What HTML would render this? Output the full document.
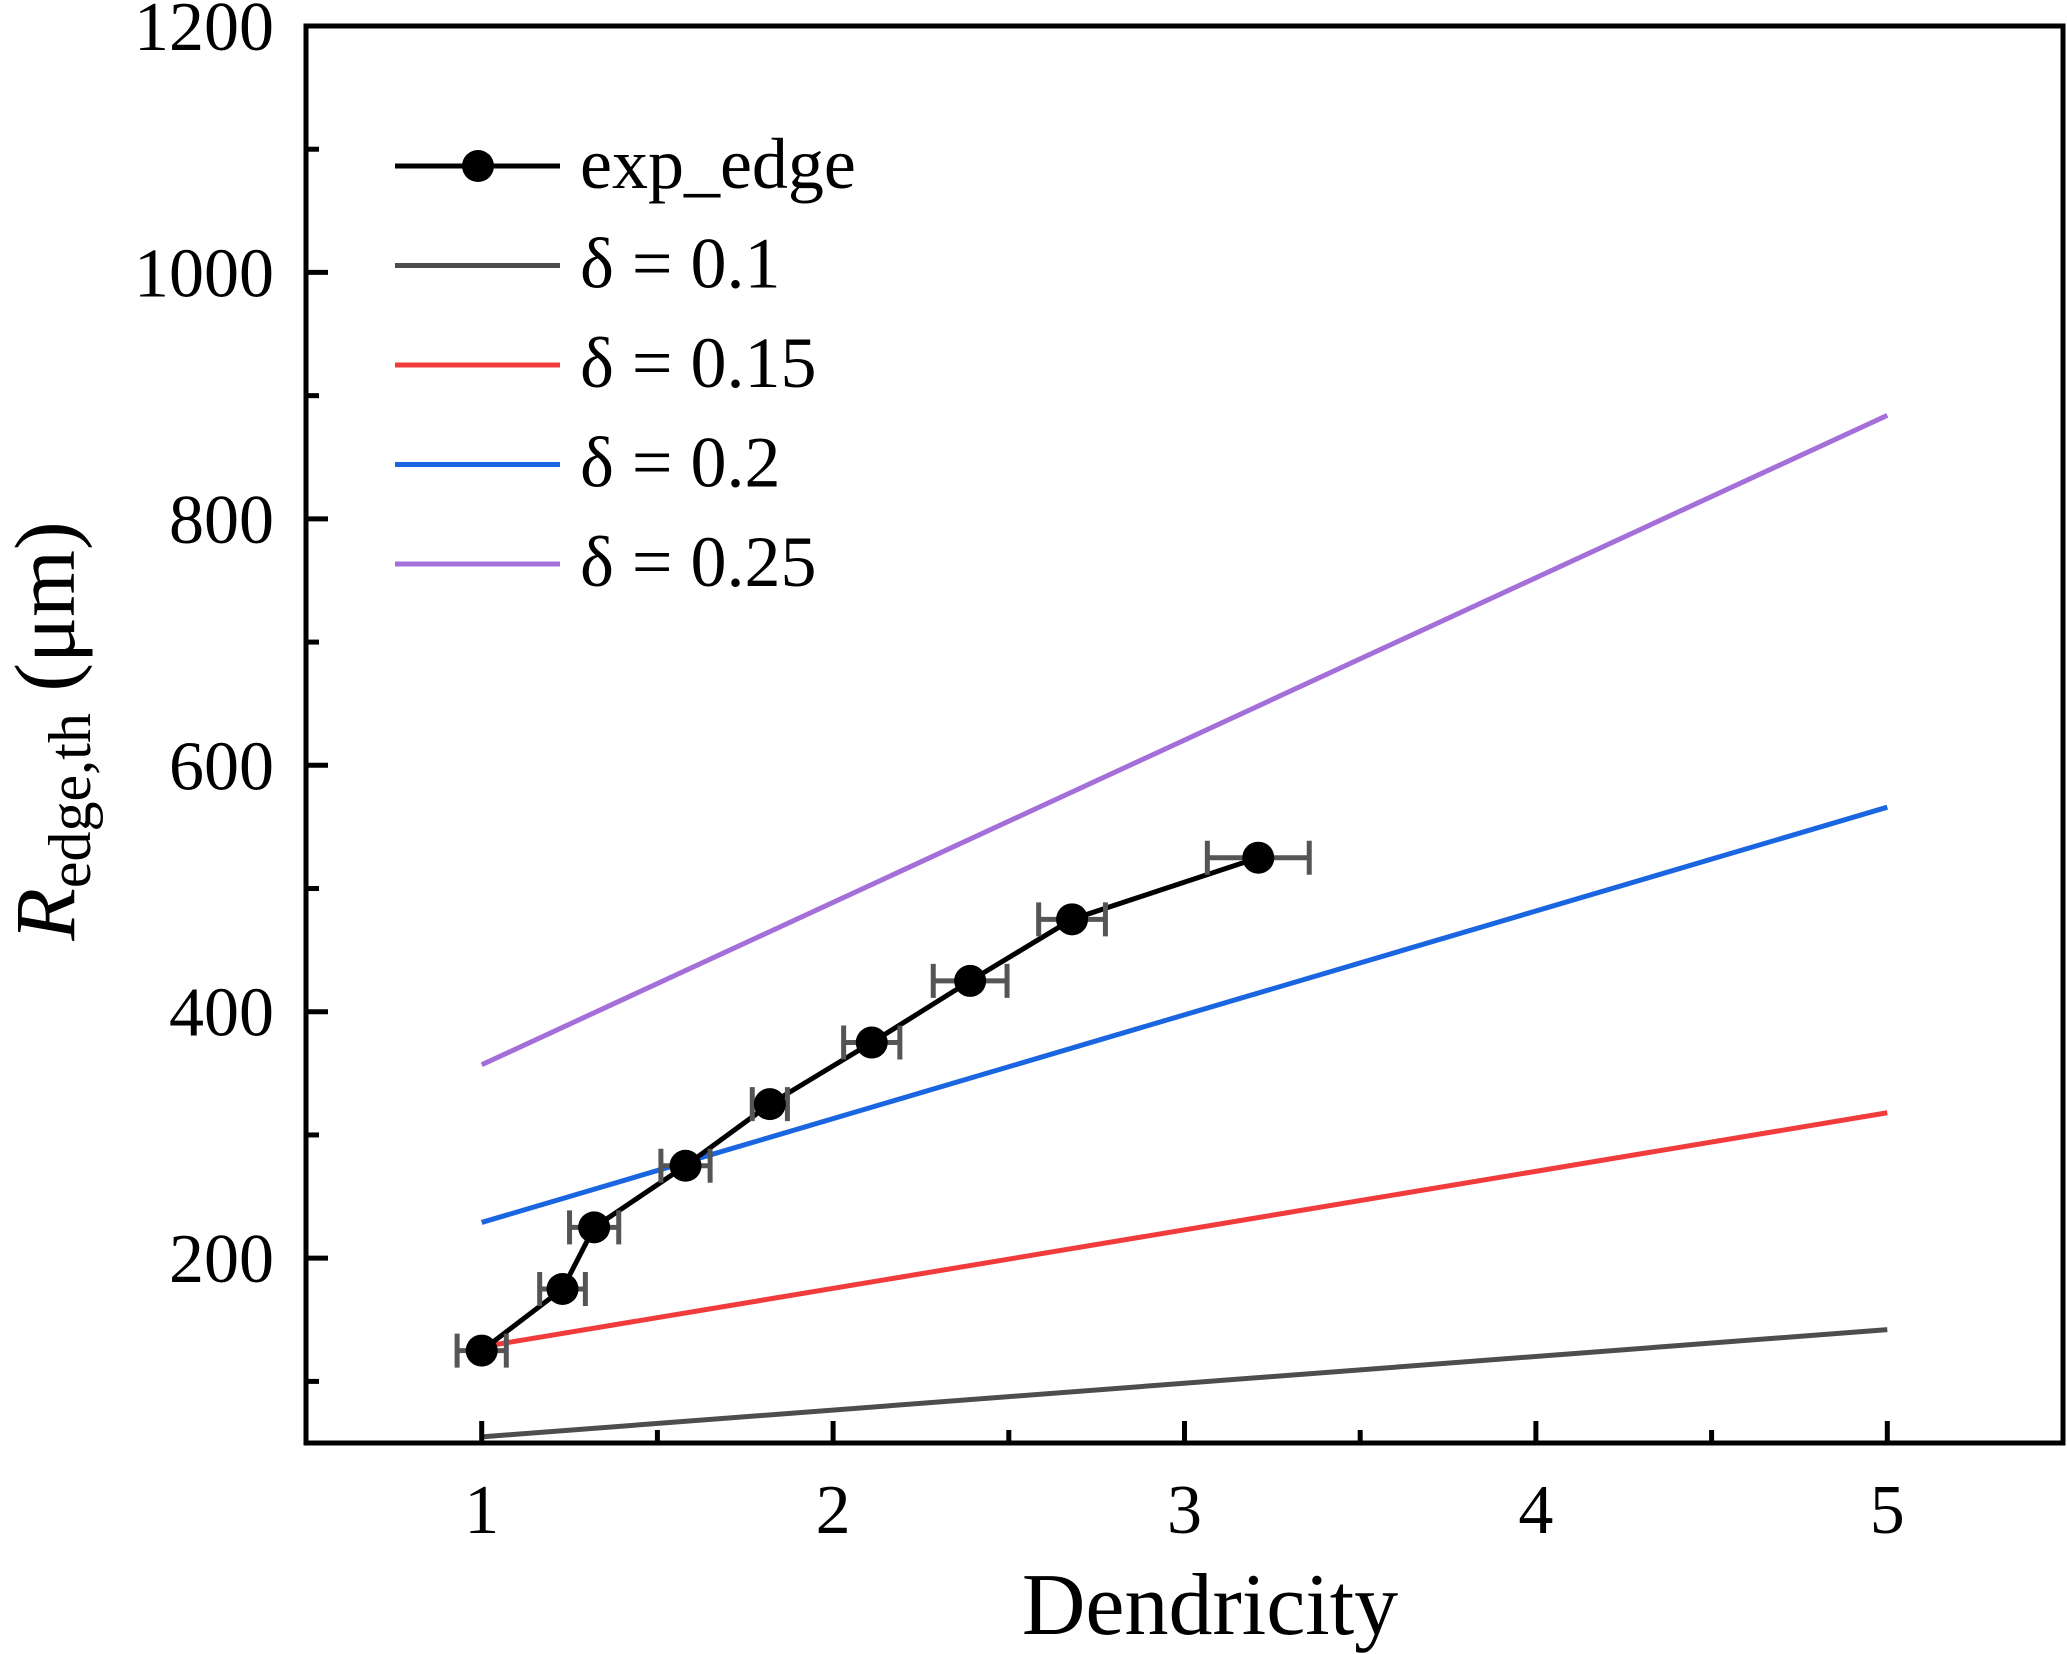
<!DOCTYPE html>
<html><head><meta charset="utf-8"><style>
html,body{margin:0;padding:0;background:#fff;}
svg{display:block;font-family:"Liberation Serif",serif;}
</style></head><body>
<svg id="chart" width="2067" height="1654" viewBox="0 0 2067 1654" xmlns="http://www.w3.org/2000/svg">
<g id="plot"></g>
</svg>
<script>
const expX = [1.0, 1.23, 1.32, 1.58, 1.82, 2.11, 2.39, 2.68, 3.21];
const expY = [125, 175, 225, 275, 325, 375, 425, 475, 525];
const expErr = [0.07, 0.065, 0.07, 0.07, 0.05, 0.08, 0.105, 0.095, 0.145];
const lineX = [1, 5];
const d01 = [55, 142];
const d015 = [128, 318];
const d02 = [229, 566];
const d025 = [357, 884];
const xTicks = [1, 2, 3, 4, 5];
const yTicks = [200, 400, 600, 800, 1000, 1200];
const legendLabels = ["exp_edge", "δ = 0.1", "δ = 0.15", "δ = 0.2", "δ = 0.25"];

const L=306,R=2063,T=26,B=1443;
const xMin=0.5,xMax=5.5,yMin=50,yMax=1200;
const sx=v=>L+(v-xMin)/(xMax-xMin)*(R-L);
const sy=v=>B-(v-yMin)/(yMax-yMin)*(B-T);
const NS="http://www.w3.org/2000/svg";
const g=document.getElementById('plot');
function mk(tag,attrs,parent){const e=document.createElementNS(NS,tag);for(const k in attrs)e.setAttribute(k,attrs[k]);(parent||g).appendChild(e);return e;}

const series=[[d01,'#4d4d4d','line-delta-0.1'],[d015,'#f23c3c','line-delta-0.15'],[d02,'#1a66e0','line-delta-0.2'],[d025,'#a56fd9','line-delta-0.25']];
series.forEach(s=>{
  const p=mk('polyline',{points:lineX.map((x,i)=>sx(x)+','+sy(s[0][i])).join(' '),fill:'none',stroke:s[1],'stroke-width':5});
  
  
});
const ex=mk('polyline',{points:expX.map((x,i)=>sx(x)+','+sy(expY[i])).join(' '),fill:'none',stroke:'#000','stroke-width':5});


expX.forEach((x,i)=>{
  const y=sy(expY[i]),x1=sx(x-expErr[i]),x2=sx(x+expErr[i]);
  const eb=mk('path',{d:`M${x1},${y}H${x2}M${x1},${y-17}V${y+17}M${x2},${y-17}V${y+17}`,stroke:'#555','stroke-width':5,fill:'none'});
  
  
  const c=mk('circle',{cx:sx(x),cy:y,r:16,fill:'#000'});
  
  
});
const fr=mk('rect',{x:L,y:T,width:R-L,height:B-T,fill:'none',stroke:'#000','stroke-width':5});


for(let v=100;v<=1100;v+=100){const maj=v%200===0;const t=mk('line',{x1:L,x2:L+(maj?22:13),y1:sy(v),y2:sy(v),stroke:'#000','stroke-width':5});}
for(let v=1;v<=5;v+=0.5){const maj=v%1===0;const t=mk('line',{x1:sx(v),x2:sx(v),y1:B,y2:B-(maj?22:13),stroke:'#000','stroke-width':5});}
yTicks.forEach(v=>{const t=mk('text',{x:274,y:sy(v)+24,'text-anchor':'end','font-size':70});t.textContent=v;});
xTicks.forEach(v=>{const t=mk('text',{x:sx(v),y:1533,'text-anchor':'middle','font-size':70});t.textContent=v;});
const xt=mk('text',{x:1210,y:1634,'text-anchor':'middle','font-size':88});xt.textContent='Dendricity';


const yt=mk('text',{transform:'translate(74,731) rotate(-90)','text-anchor':'middle','font-size':86});


yt.innerHTML='<tspan font-style="italic">R</tspan><tspan font-size="60" dy="16">edge,th</tspan><tspan dy="-16">  (μm)</tspan>';
const legColors=['#000','#4d4d4d','#f23c3c','#1a66e0','#a56fd9'];
legendLabels.forEach((lab,i)=>{
  const y=166+i*99.5;
  const lg=mk('g',{});
  
  
  mk('line',{x1:395,x2:560,y1:y,y2:y,stroke:legColors[i],'stroke-width':5},lg);
  if(i===0) mk('circle',{cx:478,cy:y,r:16,fill:'#000'},lg);
  const t=mk('text',{x:580,y:y+22,'font-size':72},lg);t.textContent=lab;
});
</script>
</body></html>
